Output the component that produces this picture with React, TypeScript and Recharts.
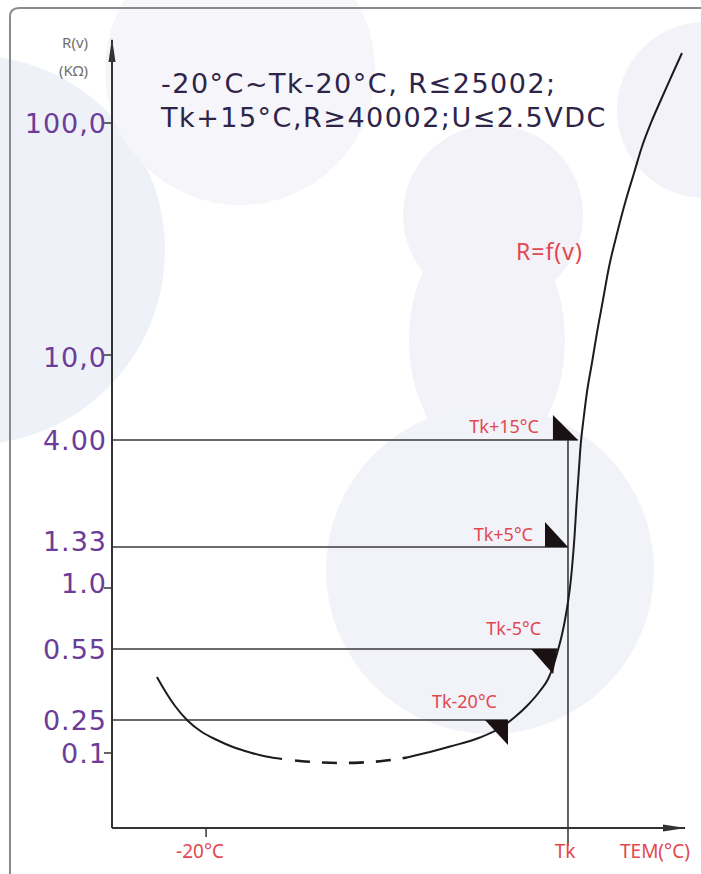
import React from 'react';
import { ComposedChart, XAxis, YAxis, Line, Scatter, ReferenceLine, ReferenceDot } from 'recharts';

// ---- data (schematic R(v) vs temperature; y is a schematic level scale) ----
const xTickValues = [-20, 100];
const xTickLabels = ['-20°C', 'Tk'];

const yTickLabels = ['0.1', '0.25', '0.55', '1.0', '1.33', '4.00', '10,0', '100,0'];
const yTickLevels = [7.5, 10.8, 17.9, 24.0, 28.1, 38.8, 47.3, 70.5];
const yTickHasMark = [true, false, false, true, false, false, true, true];

const curveLowX = [-36.3, -33.6, -30.3, -26.0, -21.4, -16.4, -11.1, -5.4, -0.1, 5.2];
const curveLowY = [15.1, 13.7, 12.2, 10.7, 9.6, 8.8, 8.1, 7.55, 7.15, 6.9];
const curveDashX = [5.2, 11.1, 17.8, 24.4, 31.0, 37.7, 42.6, 46.6];
const curveDashY = [6.9, 6.7, 6.56, 6.5, 6.54, 6.68, 6.85, 7.05];
const curveRiseX = [46.6, 54.2, 60.9, 70.8, 77.5, 82.4, 86.7, 90.7, 93.4, 95.0, 96.5, 97.9, 99.0, 100.0, 100.8, 101.5, 102.2, 102.8, 103.5, 104.2, 105.2, 106.3, 108.0, 109.6, 111.6, 113.6, 116.3, 119.2, 121.9, 124.5, 127.5, 130.8, 134.2, 137.8];
const curveRiseY = [7.05, 7.6, 8.15, 9.05, 10.0, 11.1, 12.3, 13.7, 14.9, 16.1, 17.6, 19.2, 20.8, 22.6, 24.4, 26.6, 29.3, 32.3, 35.3, 38.3, 41.0, 43.6, 46.6, 49.5, 52.8, 56.1, 59.5, 62.8, 65.5, 68.1, 70.5, 72.8, 75.1, 77.5];

const guideLabels = ['Tk-20°C', 'Tk-5°C', 'Tk+5°C', 'Tk+15°C'];
const guideLevels = [10.8, 17.9, 28.1, 38.8];
const guideEndX = [80.1, 96.4, 100, 103.3];
const tkValue = 100;

const xDomain: [number, number] = [-51.2, 138.8];
const yDomain: [number, number] = [0, 78.8];

// ---- build series ----
const zip = (xs: number[], ys: number[]) => xs.map((x, i) => ({ x, y: ys[i] }));
const lowData = zip(curveLowX, curveLowY);
const dashData = zip(curveDashX, curveDashY);
const riseData = zip(curveRiseX, curveRiseY);
const arrowData = guideLabels.map((label, i) => ({ x: guideEndX[i], y: guideLevels[i], label }));

// ---- styles ----
const RED = '#E2474F';
const PURPLE = '#6B3D98';
const INK = '#1c1c1c';
const AXIS = '#333';

const arrowStyle: Record<string, { tri: number[][]; tx: number; ty: number }> = {
  'Tk+15°C': { tri: [[-25, -25], [-25, 0], [0, 0]], tx: -39, ty: -7 },
  'Tk+5°C': { tri: [[-23, -25], [-23, 0], [0, 0]], tx: -35, ty: -6 },
  'Tk-5°C': { tri: [[-26, 0], [0, 0], [-4, 25]], tx: -16, ty: -14 },
  'Tk-20°C': { tri: [[-23, 0], [0, 0], [0, 25]], tx: -11, ty: -12 },
};
const yLabelDy: Record<string, number> = { '1.33': -6, '1.0': -5, '10,0': 2 };

const YTick = (props: any) => {
  const { x, y, payload } = props;
  const i = yTickLevels.indexOf(payload.value);
  if (i < 0) return null;
  const label = yTickLabels[i];
  return (
    <g>
      {yTickHasMark[i] && <line x1={x - 8} x2={x} y1={y} y2={y} stroke={AXIS} strokeWidth={1.5} />}
      <text x={x - 5} y={y + (yLabelDy[label] || 0)} textAnchor="end" dominantBaseline="central"
        fontSize={27} fill={PURPLE} fontFamily="DejaVu Sans" letterSpacing={1}>{label}</text>
    </g>
  );
};

const XTick = (props: any) => {
  const { x, y, payload } = props;
  const i = xTickValues.indexOf(payload.value);
  if (i < 0) return null;
  const len = i === 1 ? 18 : 9;
  return (
    <g>
      <line x1={x} x2={x} y1={y} y2={y + len} stroke={AXIS} strokeWidth={1.5} />
      <text x={i === 0 ? x - 6 : x - 3} y={y + 23} textAnchor="middle" dominantBaseline="central"
        fontSize={19} fill={RED} fontFamily="Noto Sans">{xTickLabels[i]}</text>
    </g>
  );
};

const ArrowShape = (props: any) => {
  const { cx, cy, payload } = props;
  const st = arrowStyle[payload.label];
  if (!st || cx == null) return null;
  const pts = st.tri.map(([dx, dy]) => `${cx + dx},${cy + dy}`).join(' ');
  return (
    <g>
      <polygon points={pts} fill="#1a1212" />
      <text x={cx + st.tx} y={cy + st.ty} textAnchor="end" fontSize={18} fill={RED}
        fontFamily="Noto Sans">{payload.label}</text>
    </g>
  );
};

const YArrow = (props: any) => {
  const { cx, cy } = props;
  return <polygon points={`${cx},${cy - 2} ${cx - 3.5},${cy + 22} ${cx + 3.5},${cy + 22}`} fill={AXIS} />;
};
const XArrow = (props: any) => {
  const { cx, cy } = props;
  return <polygon points={`${cx + 1},${cy} ${cx - 22},${cy - 3.5} ${cx - 22},${cy + 3.5}`} fill={AXIS} />;
};

export default function App() {
  const blob = '#F1F3F9';
  return (
    <div style={{ position: 'absolute', left: 0, top: 0, width: 701, height: 874, background: '#fff', overflow: 'hidden' }}>
      <svg width={701} height={874} style={{ position: 'absolute', left: 0, top: 0 }}>
        <circle cx={-30} cy={250} r={195} fill="#EEF2F8" />
        <circle cx={240} cy={70} r={135} fill="#F5F5FA" />
        <circle cx={705} cy={110} r={88} fill="#F3F2F8" />
        <circle cx={493} cy={215} r={90} fill="#F3F2F8" />
        <ellipse cx={487} cy={340} rx={78} ry={120} fill="#F3F2F8" />
        <circle cx={490} cy={570} r={164} fill={blob} />
      </svg>
      <div style={{ position: 'absolute', left: 0, top: 0 }}>
        <ComposedChart width={701} height={874} margin={{ top: 40, right: 16, bottom: 16, left: 12 }}>
          <XAxis type="number" dataKey="x" domain={xDomain} ticks={xTickValues} allowDataOverflow
            tick={<XTick />} tickLine={false} tickSize={0} tickMargin={0} height={30}
            axisLine={{ stroke: AXIS, strokeWidth: 2 }} />
          <YAxis type="number" dataKey="y" domain={yDomain} ticks={yTickLevels} allowDataOverflow
            tick={<YTick />} tickLine={false} tickSize={0} tickMargin={0} width={100}
            axisLine={{ stroke: AXIS, strokeWidth: 2 }} />
          {guideLevels.map((lv, i) => (
            <ReferenceLine key={i} segment={[{ x: xDomain[0], y: lv }, { x: guideEndX[i], y: lv }]}
              stroke="#3a3a3a" strokeWidth={1.6} ifOverflow="visible" />
          ))}
          <ReferenceLine segment={[{ x: tkValue, y: guideLevels[3] }, { x: tkValue, y: 0 }]}
            stroke="#3a3a3a" strokeWidth={1.6} ifOverflow="visible" />
          <Line data={lowData} dataKey="y" type="monotone" stroke={INK} strokeWidth={2} dot={false} isAnimationActive={false} />
          <Line data={dashData} dataKey="y" type="monotone" stroke={INK} strokeWidth={2.6}
            strokeDasharray="0 13 15 12 15 12 15 12 15 12 15 300" dot={false} isAnimationActive={false} />
          <Line data={riseData} dataKey="y" type="monotone" stroke={INK} strokeWidth={2} dot={false} isAnimationActive={false} />
          <Scatter data={arrowData} dataKey="y" shape={<ArrowShape />} isAnimationActive={false} />
          <ReferenceDot x={xDomain[0]} y={yDomain[1]} r={0} shape={<YArrow />} ifOverflow="visible" />
          <ReferenceDot x={xDomain[1]} y={0} r={0} shape={<XArrow />} ifOverflow="visible" />
        </ComposedChart>
      </div>
      <svg width={701} height={874} style={{ position: 'absolute', left: 0, top: 0, pointerEvents: 'none' }}>
        <path d="M10,874 L10,17 Q10,8 19,8 L701,8" fill="none" stroke="#8a8a8a" strokeWidth={2} />
        <text x={88} y={48} textAnchor="end" fontSize={15} fill="#707070" fontFamily="Noto Sans">R(v)</text>
        <text x={88} y={76} textAnchor="end" fontSize={15} fill="#707070" fontFamily="Noto Sans">(KΩ)</text>
        <text x={161} y={93} fontSize={27} fill="#2E2448" fontFamily="DejaVu Sans" letterSpacing={1.5}>-20°C~Tk-20°C, R≤25002;</text>
        <text x={161} y={127} fontSize={27} fill="#2E2448" fontFamily="DejaVu Sans" letterSpacing={1.5}>Tk+15°C,R≥40002;U≤2.5VDC</text>
        <text x={516} y={260} fontSize={23} fill={RED} fontFamily="Noto Sans" letterSpacing={1}>R=f(v)</text>
        <text x={620} y={858} fontSize={19} fill={RED} fontFamily="Noto Sans">TEM(°C)</text>
      </svg>
    </div>
  );
}
